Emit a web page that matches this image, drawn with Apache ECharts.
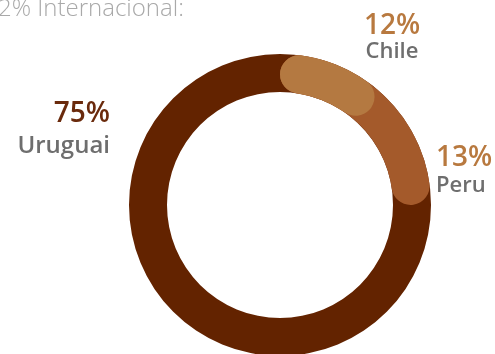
<!DOCTYPE html>
<html>
<head>
<meta charset="utf-8">
<script src="https://cdn.jsdelivr.net/npm/echarts@6/dist/echarts.min.js"></script>
<style>
  html, body { margin: 0; padding: 0; background: #fff; }
  #chart { width: 495px; height: 354px; }
</style>
</head>
<body>
<div id="chart"></div>
<script>
// Share of international sales by country
const countries = ['Chile', 'Peru', 'Uruguai'];
const shares = [12, 13, 75];
const sliceColors = ['#b47941', '#a45a2b', '#632300'];
const valueColors = ['#b8793f', '#b8793f', '#6a2a0c'];
const headline = '2% Internacional:';

// Label anchors (x, y, align) per country
const labelSpots = [
  { x: 392, y: 39, align: 'center', lh: 26, nameSize: 22 },
  { x: 436, y: 172, align: 'left', lh: 27, nameSize: 22 },
  { x: 110, y: 130, align: 'right', lh: 32, nameSize: 24 }
];

const total = shares.reduce((a, b) => a + b, 0);
const center = [280, 205];
const radius = [113, 151];

// Base ring: every slice in the dark tone, carrying the labels
const baseData = countries.map((name, i) => ({
  name,
  value: shares[i],
  itemStyle: { color: sliceColors[2] },
  label: {
    rich: {
      v: { fontSize: 28, fontWeight: 600, color: valueColors[i], fontFamily: 'Open Sans', lineHeight: labelSpots[i].lh, align: labelSpots[i].align },
      n: { fontSize: labelSpots[i].nameSize, fontWeight: 600, color: '#6e6e6e', fontFamily: 'Open Sans', lineHeight: labelSpots[i].lh, align: labelSpots[i].align }
    }
  }
}));

// Rounded overlays: each covers the running total up to its country
function overlay(idx) {
  let cum = 0;
  for (let k = 0; k <= idx; k++) cum += shares[k];
  return {
    type: 'pie',
    center, radius,
    startAngle: 90,
    clockwise: true,
    silent: true,
    animation: false,
    label: { show: false },
    labelLine: { show: false },
    emphasis: { disabled: true },
    itemStyle: { borderRadius: 19, borderWidth: 0 },
    data: [
      { value: cum, name: countries[idx], itemStyle: { color: sliceColors[idx] } },
      { value: total - cum, name: '', itemStyle: { color: 'rgba(0,0,0,0)' } }
    ]
  };
}

const chart = echarts.init(document.getElementById('chart'), null, { renderer: 'canvas' });
chart.setOption({
  animation: false,
  title: {
    text: headline,
    left: -2,
    top: -3,
    padding: 0,
    textStyle: { fontFamily: 'Open Sans', fontWeight: 300, fontSize: 24, color: '#a9a9a9' }
  },
  series: [
    {
      type: 'pie',
      center, radius,
      startAngle: 90,
      clockwise: true,
      silent: true,
      animation: false,
      avoidLabelOverlap: false,
      itemStyle: { borderWidth: 0 },
      emphasis: { disabled: true },
      label: {
        show: true,
        position: 'outside',
        formatter: p => '{v|' + p.value + '%}\n{n|' + p.name + '}'
      },
      labelLine: { show: false },
      labelLayout: p => ({
        x: labelSpots[p.dataIndex].x,
        y: labelSpots[p.dataIndex].y,
        align: labelSpots[p.dataIndex].align,
        verticalAlign: 'middle'
      }),
      data: baseData
    },
    overlay(1),
    overlay(0)
  ]
});
</script>
</body>
</html>
